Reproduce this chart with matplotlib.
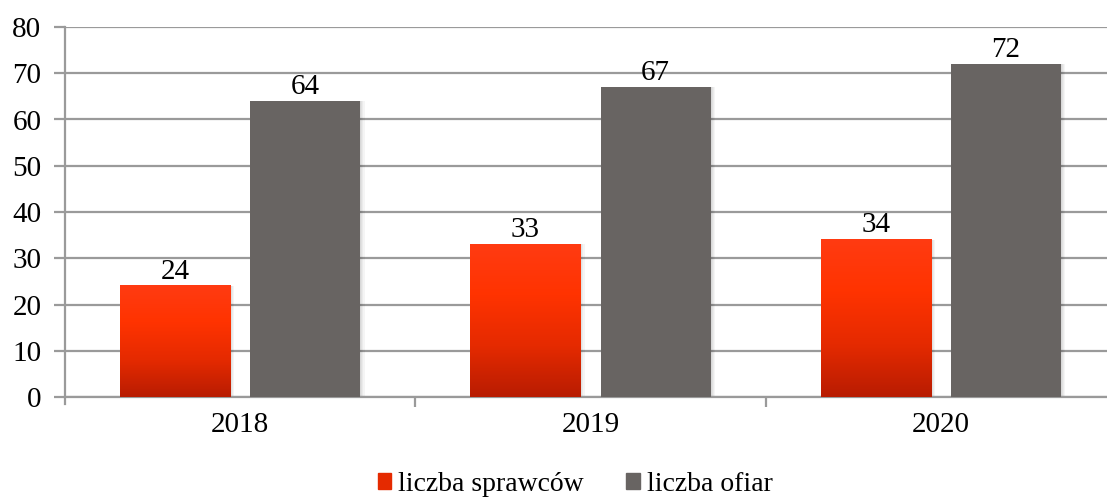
import numpy as np
import matplotlib.pyplot as plt
from matplotlib.colors import LinearSegmentedColormap
from matplotlib.patches import Patch

years = ['2018', '2019', '2020']
sprawcy = [24, 33, 34]
ofiary = [64, 67, 72]
labels = ['liczba sprawców', 'liczba ofiar']

plt.rcParams['font.family'] = ['Liberation Serif', 'DejaVu Serif']
fs = 21

fig = plt.figure(figsize=(11.07, 4.98), dpi=100)
ax = fig.add_axes([65 / 1107, 1 - 397 / 498, (1116 - 65) / 1107, 370 / 498])

x = np.arange(len(years))
w = 0.314
off = 0.186
grid_col = '#9a9a9a'
gray = '#686462'

red_cmap = LinearSegmentedColormap.from_list('r', ['#b81c02', '#e52a00', '#ff3300', '#ff3b12'])
grad = np.linspace(0, 1, 256).reshape(-1, 1)

b1 = ax.bar(x - off, sprawcy, w, color='none', zorder=3)
b2 = ax.bar(x + off, ofiary, w, color=gray, zorder=3)

for r in b1:
    x0, y0 = r.get_x(), r.get_y()
    ax.imshow(grad, cmap=red_cmap, origin='lower', aspect='auto', zorder=3,
              extent=(x0, x0 + r.get_width(), y0, y0 + r.get_height()))

# light shadow on the right side of bars
for bars in (b1, b2):
    for r in bars:
        for i in range(4):
            ax.add_patch(plt.Rectangle((r.get_x() + r.get_width(), 0), 0.003 * (i + 1), r.get_height(),
                                       color='k', alpha=0.04, lw=0, zorder=2))

for bars, vals in ((b1, sprawcy), (b2, ofiary)):
    for r, v in zip(bars, vals):
        ax.text(r.get_x() + r.get_width() / 2, v + 0.3, str(v), ha='center', va='bottom',
                fontsize=fs, zorder=4)

ax.set_xlim(-0.5, 2.5)
ax.set_ylim(0, 80)
ax.set_yticks(range(0, 81, 10))
ax.yaxis.grid(True, color=grid_col, lw=1.6, zorder=0)
ax.set_axisbelow(True)
ax.set_xticks(x)
ax.set_xticklabels(years)
ax.set_xticks([0.5, 1.5], minor=True)
ax.tick_params(axis='x', which='major', length=0, pad=11, labelsize=fs)
ax.tick_params(axis='x', which='minor', length=7, width=1.6, color=grid_col, direction='out')
ax.tick_params(axis='y', length=8, width=1.6, color=grid_col, labelsize=fs, pad=9)
for s in ('top', 'right'):
    ax.spines[s].set_visible(False)
ax.spines['left'].set_color(grid_col)
ax.spines['left'].set_linewidth(1.6)
ax.spines['left'].set_bounds(-1.5, 80)
ax.spines['bottom'].set_color(grid_col)
ax.spines['bottom'].set_linewidth(1.6)

handles = [Patch(color='#e52a00'), Patch(color=gray)]
fig.legend(handles, labels, loc='center', bbox_to_anchor=(575 / 1107, 1 - 484 / 498),
           ncol=2, frameon=False, fontsize=20, handlelength=0.5, handleheight=0.5,
           handletextpad=0.25, columnspacing=1.5)

fig.savefig('out.png', dpi=100)
